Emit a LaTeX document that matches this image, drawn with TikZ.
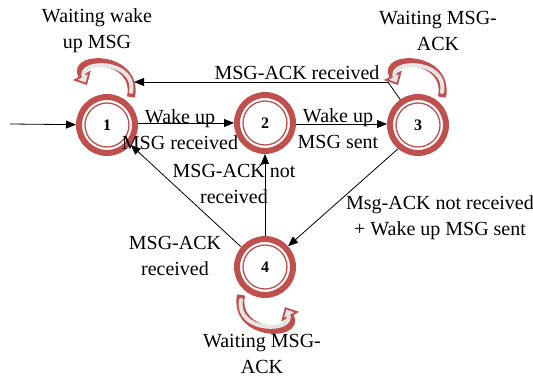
\documentclass[tikz,border=0pt]{standalone}
\usepackage{fontspec}
\setmainfont{Liberation Serif}
\usetikzlibrary{arrows.meta,calc}
\definecolor{ringred}{RGB}{192,80,77}
\begin{document}
\begin{tikzpicture}[x=1pt,y=-1pt,
  state/.style={circle,draw=ringred,line width=6pt,minimum size=56pt,inner sep=0pt,
    font=\fontsize{16}{16}\selectfont\bfseries},
  innerring/.style={draw=ringred,line width=1.3pt},
  lbl/.style={align=center,font=\fontsize{20}{26}\selectfont,inner sep=0pt},
  conn/.style={draw=black,line width=0.8pt,-{Triangle[length=10pt,width=8pt]}},
  loopline/.style={draw=ringred,line width=8pt,
    -{Triangle[length=11pt,width=20pt,line width=1.8pt,fill=gray!20]}},
  loopinner/.style={draw=gray!20,line width=4pt,line cap=round}]
\useasboundingbox (0,0) rectangle (533,379);
% states
\node[state] (n1) at (107,125) {1};
\node[state] (n2) at (265,123) {2};
\node[state] (n3) at (418,125) {3};
\node[state] (n4) at (265,267) {4};
\foreach \n in {n1,n2,n3,n4} \draw[innerring] (\n) circle[radius=22];
% connectors
\coordinate (start) at (10,124);
\coordinate (k3) at (388,82);
\coordinate (t1) at (134,82);
\draw[conn] (start) -- (n1);
\draw[conn] (n1.east |- 0,123) -- (n2.west |- 0,123);
\draw[conn] (n2.east |- 0,124) -- (n3.west |- 0,124);
\draw[conn,-] (n3.125) -- (k3);
\draw[conn] (k3) -- (t1);
\draw[conn] (n4) -- (n2);
\draw[conn] (n4.140) -- (n1.-40);
\draw[conn] (n3.-130) -- (n4.42);
% self loops
\foreach \n in {n1,n3}{
  \draw[loopline] ($(\n)+(24,-28)$) .. controls ($(\n)+(32,-70)$) and ($(\n)+(-36,-70)$) .. ($(\n)+(-20,-40)$);
  \draw[loopinner] ($(\n)+(24,-33)$) .. controls ($(\n)+(30,-66)$) and ($(\n)+(-31,-66)$) .. ($(\n)+(-23,-47)$);
}
\draw[loopline] ($(n4)+(-24,28)$) .. controls ($(n4)+(-32,70)$) and ($(n4)+(36,70)$) .. ($(n4)+(20,40)$);
\draw[loopinner] ($(n4)+(-24,33)$) .. controls ($(n4)+(-30,66)$) and ($(n4)+(31,66)$) .. ($(n4)+(23,47)$);
% labels
\node[lbl] (w1) at (97,31) {Waiting wake\\up MSG};
\node[lbl] (w3) at (438,31) {Waiting MSG-\\ACK};
\node[lbl] (w4) at (262,354) {Waiting MSG-\\ACK};
\node[lbl] (l12) at (180,130) {Wake up\\MSG received};
\node[lbl] (l23) at (338,129) {Wake up\\MSG sent};
\node[lbl] (l31) at (297,73) {MSG-ACK received};
\node[lbl] (l42) at (234,184) {MSG-ACK not\\received};
\node[lbl] (l41) at (175,256) {MSG-ACK\\received};
\node[lbl] (l34) at (440,218) {Msg-ACK not received\\+ Wake up MSG sent};
\end{tikzpicture}
\end{document}
